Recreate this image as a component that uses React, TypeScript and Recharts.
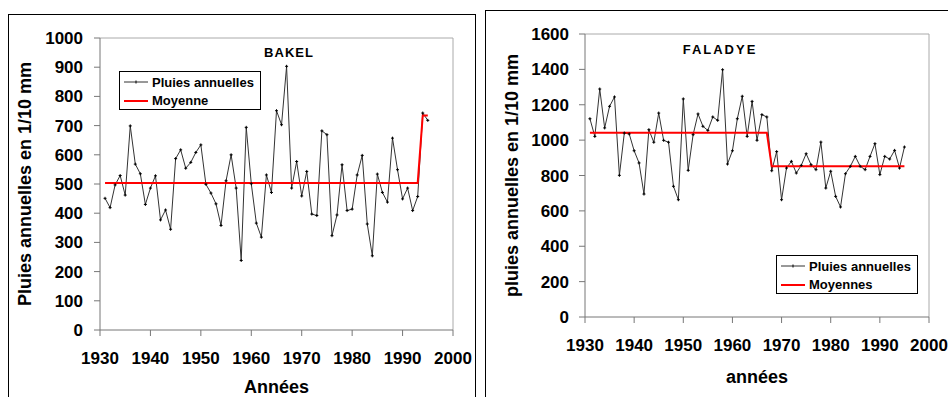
import React from 'react';
import { LineChart, Line, XAxis, YAxis, ReferenceLine, Legend, Customized } from 'recharts';

const years = [
  1931, 1932, 1933, 1934, 1935, 1936, 1937, 1938, 1939, 1940,
  1941, 1942, 1943, 1944, 1945, 1946, 1947, 1948, 1949, 1950,
  1951, 1952, 1953, 1954, 1955, 1956, 1957, 1958, 1959, 1960,
  1961, 1962, 1963, 1964, 1965, 1966, 1967, 1968, 1969, 1970,
  1971, 1972, 1973, 1974, 1975, 1976, 1977, 1978, 1979, 1980,
  1981, 1982, 1983, 1984, 1985, 1986, 1987, 1988, 1989, 1990,
  1991, 1992, 1993, 1994, 1995,
];

// pluies annuelles, 1/10 mm
const bakelRain = [
  451, 419, 497, 529, 462, 699, 568, 535, 430, 486,
  528, 377, 411, 345, 587, 617, 554, 574, 608, 634,
  499, 469, 432, 358, 511, 600, 486, 238, 694, 501,
  366, 318, 531, 471, 751, 703, 903, 486, 577, 459,
  543, 397, 392, 682, 669, 323, 394, 566, 409, 414,
  531, 598, 363, 254, 534, 471, 438, 657, 549, 449,
  486, 409, 457, 743, 718,
];

const faladyeRain = [
  1121, 1021, 1289, 1069, 1191, 1244, 801, 1040, 1035, 940,
  871, 695, 1059, 988, 1153, 999, 988, 739, 663, 1233,
  829, 1031, 1148, 1078, 1055, 1131, 1112, 1398, 865, 940,
  1121, 1248, 1021, 1219, 999, 1144, 1131, 827, 935, 663,
  842, 880, 814, 857, 923, 861, 833, 989, 729, 824,
  682, 622, 810, 852, 908, 852, 833, 908, 980, 805,
  908, 893, 942, 842, 961,
];

const bakelMeanYears = [1931, 1993, 1994, 1995];
const bakelMeanValues = [503, 503, 735, 735];
const faladyeMeanYears = [1931, 1967, 1968, 1995];
const faladyeMeanValues = [1042, 1042, 852, 852];

const yearTicks = [1930, 1940, 1950, 1960, 1970, 1980, 1990, 2000];
const bakelTicks = [0, 100, 200, 300, 400, 500, 600, 700, 800, 900, 1000];
const faladyeTicks = [0, 200, 400, 600, 800, 1000, 1200, 1400, 1600];

const FONT = '"Liberation Sans", Arial, sans-serif';
const AXIS_GRAY = '#777';

const crossDot = (props: any) => {
  const { cx, cy, index } = props;
  return (
    <path
      key={`dot-${index}`}
      d={`M${cx - 1.5},${cy}H${cx + 1.5}M${cx},${cy - 1.5}V${cy + 1.5}`}
      stroke="#000"
      strokeWidth={1}
    />
  );
};

const makeLegend = (meanLabel: string) => () => (
  <div
    style={{
      border: '1px solid #000',
      background: '#fff',
      width: 140,
      height: 37,
      boxSizing: 'content-box',
      fontFamily: FONT,
      fontSize: 13,
      fontWeight: 'bold',
      color: '#000',
    }}
  >
    <div style={{ display: 'flex', alignItems: 'center', height: 20, paddingLeft: 4 }}>
      <svg width={24} height={8} style={{ marginRight: 4 }}>
        <line x1={0} y1={4} x2={24} y2={4} stroke="#333" strokeWidth={1} />
        <line x1={12} y1={2.5} x2={12} y2={5.5} stroke="#000" strokeWidth={1} />
      </svg>
      <span>Pluies annuelles</span>
    </div>
    <div style={{ display: 'flex', alignItems: 'center', height: 17, paddingLeft: 4 }}>
      <svg width={24} height={8} style={{ marginRight: 4 }}>
        <line x1={0} y1={4} x2={24} y2={4} stroke="#ff0000" strokeWidth={2} />
      </svg>
      <span>{meanLabel}</span>
    </div>
  </div>
);

interface StationProps {
  rain: number[];
  meanYears: number[];
  meanValues: number[];
  yMax: number;
  yTicks: number[];
  width: number;
  yAxisWidth: number;
  marginTop: number;
  marginRight: number;
  xAxisHeight: number;
  xTitle: string;
  xTitleOffset: number;
  yTitle: string;
  yTitleOffset: number;
  yTickMargin: number;
  station: string;
  stationX: number;
  stationY: number;
  stationSpacing: number;
  meanLabel: string;
  legendLeft: number;
  legendTop: number;
}

const StationChart: React.FC<StationProps> = (p) => {
  const data = years.map((year, i) => ({ year, rain: p.rain[i] }));
  const meanData = p.meanYears.map((year, i) => ({ year, mean: p.meanValues[i] }));
  const tickStyle = { fontFamily: FONT, fontSize: 17, fontWeight: 'bold', fill: '#000' };
  const titleStyle = { fontFamily: FONT, fontSize: 18, fontWeight: 'bold', fill: '#000' };

  return (
    <LineChart
      width={p.width}
      height={397}
      data={data}
      margin={{ top: p.marginTop, right: p.marginRight, bottom: 0, left: 0 }}
    >
      <XAxis
        type="number"
        dataKey="year"
        domain={[1930, 2000]}
        ticks={yearTicks}
        allowDataOverflow
        height={p.xAxisHeight}
        tickSize={6}
        tickMargin={16}
        stroke={AXIS_GRAY}
        tick={tickStyle}
        label={{ value: p.xTitle, position: 'insideBottom', offset: p.xTitleOffset, style: titleStyle }}
      />
      <YAxis
        type="number"
        domain={[0, p.yMax]}
        ticks={p.yTicks}
        width={p.yAxisWidth}
        tickSize={6}
        tickMargin={p.yTickMargin}
        stroke={AXIS_GRAY}
        tick={tickStyle}
        label={{
          value: p.yTitle,
          angle: -90,
          position: 'insideLeft',
          offset: p.yTitleOffset,
          style: { ...titleStyle, textAnchor: 'middle' },
        }}
      />
      <ReferenceLine y={p.yMax} stroke="#aaa" strokeWidth={1} />
      <ReferenceLine x={2000} stroke="#aaa" strokeWidth={1} />
      <Line
        dataKey="rain"
        stroke="#333"
        strokeWidth={1}
        dot={crossDot}
        activeDot={false}
        isAnimationActive={false}
      />
      <Line
        data={meanData}
        dataKey="mean"
        stroke="#ff0000"
        strokeWidth={2}
        dot={false}
        activeDot={false}
        isAnimationActive={false}
      />
      <Customized
        component={() => (
          <text
            x={p.stationX}
            y={p.stationY}
            textAnchor="middle"
            style={{ fontFamily: FONT, fontSize: 13, fontWeight: 'bold', letterSpacing: p.stationSpacing }}
            fill="#000"
          >
            {p.station}
          </text>
        )}
      />
      <Legend
        layout="vertical"
        align="center"
        verticalAlign="middle"
        content={makeLegend(p.meanLabel)}
        wrapperStyle={{ left: p.legendLeft, top: p.legendTop, width: 'auto', height: 'auto' }}
      />
    </LineChart>
  );
};

export default function App() {
  return (
    <div
      style={{
        position: 'fixed',
        left: 0,
        top: 0,
        width: 948,
        height: 397,
        background: '#fff',
        overflow: 'hidden',
      }}
    >
      <div
        style={{
          position: 'absolute',
          left: 8,
          top: 14,
          width: 466,
          height: 420,
          border: '1px solid #000',
        }}
      />
      <div
        style={{
          position: 'absolute',
          left: 485,
          top: 10,
          width: 480,
          height: 420,
          border: '1px solid #000',
        }}
      />
      <div style={{ position: 'absolute', left: 0, top: 0 }}>
        <StationChart
          rain={bakelRain}
          meanYears={bakelMeanYears}
          meanValues={bakelMeanValues}
          yMax={1000}
          yTicks={bakelTicks}
          width={480}
          yAxisWidth={100}
          marginTop={38}
          marginRight={27}
          xAxisHeight={67}
          xTitle="Années"
          xTitleOffset={4}
          yTitle="Pluies annuelles en 1/10 mm"
          yTitleOffset={25}
          yTickMargin={11}
          station="BAKEL"
          stationX={289}
          stationY={57}
          stationSpacing={1}
          meanLabel="Moyenne"
          legendLeft={119}
          legendTop={71}
        />
      </div>
      <div style={{ position: 'absolute', left: 480, top: 0 }}>
        <StationChart
          rain={faladyeRain}
          meanYears={faladyeMeanYears}
          meanValues={faladyeMeanValues}
          yMax={1600}
          yTicks={faladyeTicks}
          width={468}
          yAxisWidth={105}
          marginTop={34}
          marginRight={19}
          xAxisHeight={80}
          xTitle="années"
          xTitleOffset={14}
          yTitle="pluies annuelles en 1/10 mm"
          yTitleOffset={32}
          yTickMargin={10}
          station="FALADYE"
          stationX={240}
          stationY={54}
          stationSpacing={2}
          meanLabel="Moyennes"
          legendLeft={296}
          legendTop={255}
        />
      </div>
    </div>
  );
}
